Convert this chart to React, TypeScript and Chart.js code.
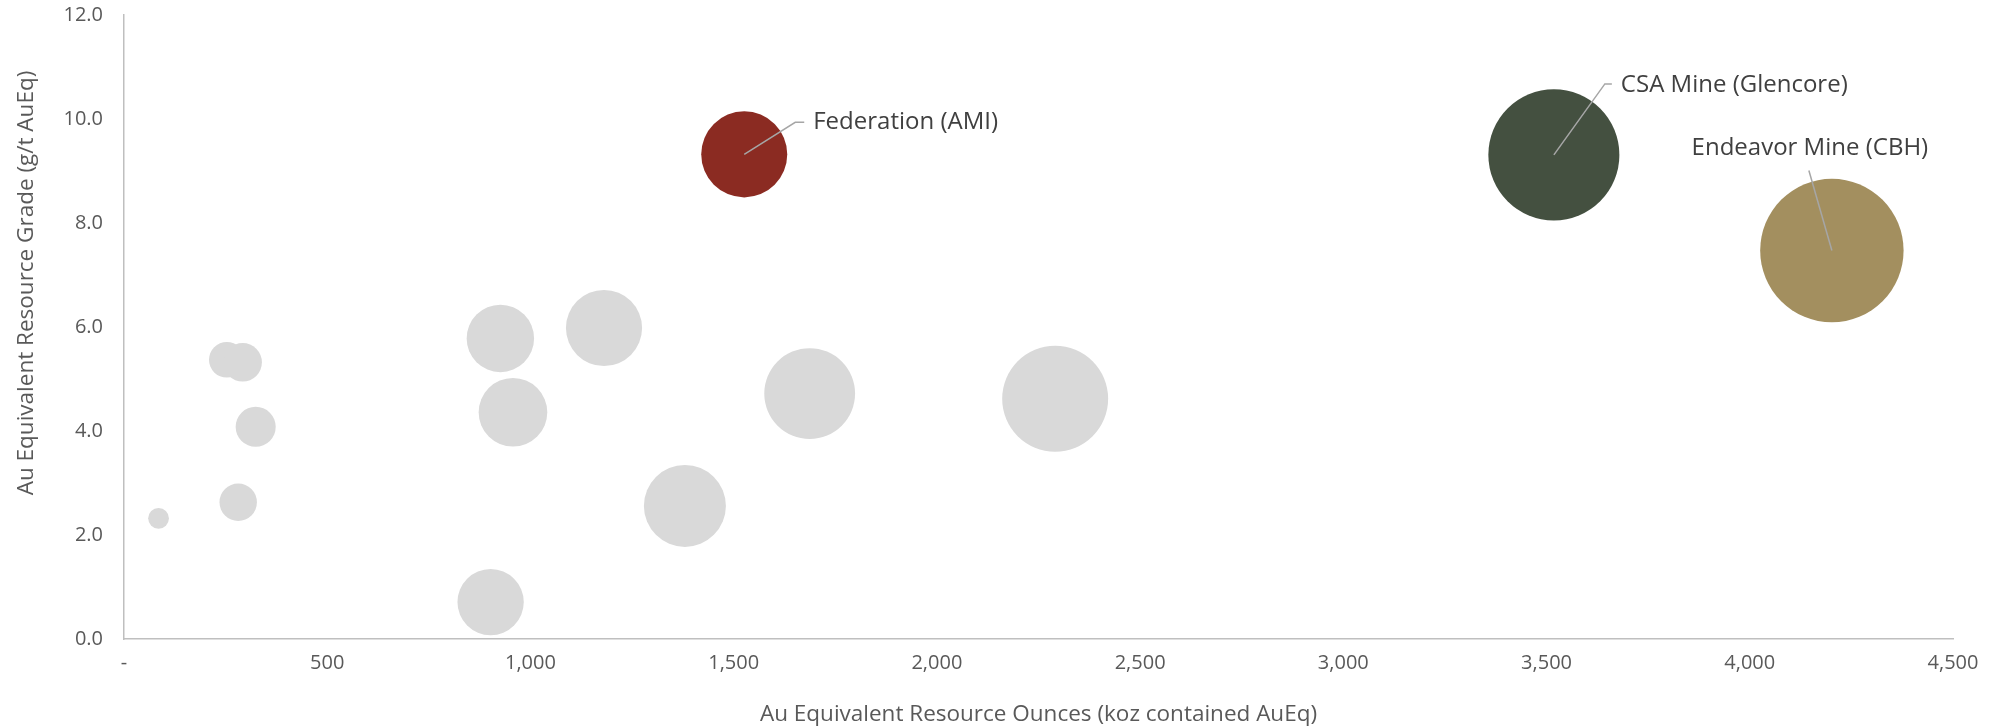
import React, { useEffect, useRef } from "react";
import { Chart, registerables, BubbleController } from "chart.js";

Chart.register(...registerables);
// Do not let bubble radii inflate the layout padding (Excel-style plot area)
(BubbleController as any).prototype.getMaxOverflow = function () {
  return false;
};

// ---- Data ----
// Peer projects (unlabelled grey bubbles)
const peerOunces = [85, 281, 324, 253, 292, 926, 957, 902, 1181, 1380, 1687, 2291];
const peerGrades = [2.32, 2.63, 4.08, 5.37, 5.32, 5.78, 4.36, 0.71, 5.98, 2.56, 4.72, 4.62];
const peerSizes = [2.1, 6.8, 7.8, 6.2, 7.2, 22.1, 22.9, 21.4, 28.2, 32.7, 40.1, 54.6];

// Highlighted projects
const highlightNames = ["Federation (AMI)", "CSA Mine (Glencore)", "Endeavor Mine (CBH)"];
const highlightOunces = [1526, 3518, 4202];
const highlightGrades = [9.32, 9.31, 7.47];
const highlightSizes = [36.0, 83.5, 100];

// Axis ticks
const xTickValues = [0, 500, 1000, 1500, 2000, 2500, 3000, 3500, 4000, 4500];
const yTickValues = [0, 2, 4, 6, 8, 10, 12];

const xTitle = "Au Equivalent Resource Ounces (koz contained AuEq)";
const yTitle = "Au Equivalent Resource Grade (g/t AuEq)";

// ---- Styles ----
const FONT = "'Open Sans', sans-serif";
const MAX_RADIUS = 71.7;
const GREY = "#d9d9d9";
const HIGHLIGHT_COLORS = ["#8b2b22", "#445040", "#a38f5f"];
const LEADER_COLOR = "#a6a6a6";
const LABEL_COLOR = "#404040";
const TICK_COLOR = "#595959";
const AXIS_COLOR = "#bfbfbf";

const maxSize = Math.max(...peerSizes, ...highlightSizes);
const radiusOf = (s: number) => MAX_RADIUS * Math.sqrt(s / maxSize);

// leader-line geometry relative to bubble centre (pixels)
const labelStyles = [
  { elbow: [51, -32], end: [60, -32], text: [69, -32], align: "left" },
  { elbow: [51, -71], end: [58, -71], text: [67, -70], align: "left" },
  { elbow: null, end: [-23, -80], text: [-22, -102], align: "center" },
];

const annotationPlugin = {
  id: "bubbleLabels",
  afterDatasetsDraw(chart: any) {
    const ctx = chart.ctx;
    ctx.save();
    highlightNames.forEach((name, i) => {
      const meta = chart.getDatasetMeta(i + 1);
      const el = meta.data[0];
      if (!el) return;
      const cx = el.x;
      const cy = el.y;
      const st = labelStyles[i];
      ctx.strokeStyle = LEADER_COLOR;
      ctx.lineWidth = 1.5;
      ctx.beginPath();
      ctx.moveTo(cx, cy);
      if (st.elbow) ctx.lineTo(cx + st.elbow[0], cy + st.elbow[1]);
      ctx.lineTo(cx + st.end[0], cy + st.end[1]);
      ctx.stroke();
      ctx.fillStyle = LABEL_COLOR;
      ctx.font = `24px ${FONT}`;
      ctx.textAlign = st.align as CanvasTextAlign;
      ctx.textBaseline = "middle";
      ctx.fillText(name, cx + st.text[0], cy + st.text[1]);
    });
    ctx.restore();
  },
};

// Y-axis title drawn slightly above the plot centre, as in the reference
const yTitlePlugin = {
  id: "yTitle",
  afterDraw(chart: any) {
    const ctx = chart.ctx;
    const area = chart.chartArea;
    ctx.save();
    ctx.translate(27, (area.top + area.bottom) / 2 - 44);
    ctx.rotate(-Math.PI / 2);
    ctx.fillStyle = TICK_COLOR;
    ctx.font = `22.5px ${FONT}`;
    ctx.textAlign = "center";
    ctx.textBaseline = "middle";
    ctx.fillText(yTitle, 0, 0);
    ctx.restore();
  },
};

export default function App() {
  const canvasRef = useRef<HTMLCanvasElement | null>(null);

  useEffect(() => {
    if (!canvasRef.current) return;
    const datasets: any[] = [
      {
        label: "Peers",
        data: peerOunces.map((x, i) => ({ x, y: peerGrades[i], r: radiusOf(peerSizes[i]) })),
        backgroundColor: GREY,
        borderWidth: 0,
        hoverBorderWidth: 0,
        hoverRadius: 0,
      },
      ...highlightNames.map((name, i) => ({
        label: name,
        data: [{ x: highlightOunces[i], y: highlightGrades[i], r: radiusOf(highlightSizes[i]) }],
        backgroundColor: HIGHLIGHT_COLORS[i],
        borderWidth: 0,
        hoverBorderWidth: 0,
        hoverRadius: 0,
      })),
    ];

    const chart = new Chart(canvasRef.current, {
      type: "bubble",
      data: { datasets },
      plugins: [annotationPlugin, yTitlePlugin],
      options: {
        responsive: false,
        animation: false,
        layout: { padding: { top: 15, right: 47, left: 0, bottom: 0 } },
        plugins: {
          legend: { display: false },
          tooltip: { enabled: false },
        },
        scales: {
          x: {
            type: "linear",
            min: 0,
            max: 4500,
            afterBuildTicks: (scale: any) => {
              scale.ticks = xTickValues.map((v) => ({ value: v }));
            },
            afterFit: (scale: any) => {
              scale.height = 89;
              scale.paddingLeft = 0;
              scale.paddingRight = 0;
            },
            grid: { display: false, drawTicks: false },
            border: { display: true, color: AXIS_COLOR, width: 1.5 },
            ticks: {
              color: TICK_COLOR,
              font: { family: FONT, size: 20 },
              padding: 12,
              maxRotation: 0,
              autoSkip: false,
              callback: (v: any) => (Number(v) === 0 ? "-" : Number(v).toLocaleString("en-US")),
            },
            title: {
              display: true,
              text: xTitle,
              color: TICK_COLOR,
              font: { family: FONT, size: 22.5 },
              padding: { top: 0, bottom: 0 },
            },
          },
          y: {
            type: "linear",
            min: 0,
            max: 12,
            afterBuildTicks: (scale: any) => {
              scale.ticks = yTickValues.map((v) => ({ value: v }));
            },
            afterFit: (scale: any) => {
              scale.width = 124;
              scale.paddingTop = 0;
              scale.paddingBottom = 0;
            },
            grid: { display: false, drawTicks: false },
            border: { display: true, color: AXIS_COLOR, width: 1.5 },
            ticks: {
              color: TICK_COLOR,
              font: { family: FONT, size: 20 },
              padding: 21,
              autoSkip: false,
              callback: (v: any) => Number(v).toFixed(1),
            },
            title: { display: false },
          },
        },
      } as any,
    });
    return () => chart.destroy();
  }, []);

  return (
    <canvas
      ref={canvasRef}
      width={2000}
      height={728}
      style={{ position: "fixed", left: 0, top: 0, width: 2000, height: 728, display: "block", background: "#fff" }}
    />
  );
}
